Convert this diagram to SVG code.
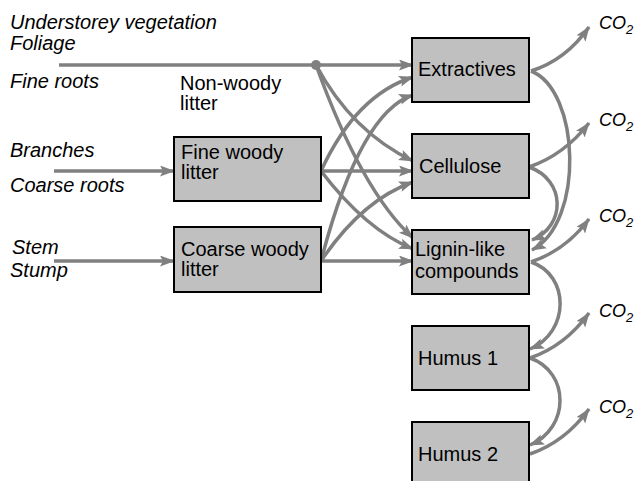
<svg xmlns="http://www.w3.org/2000/svg" width="639" height="481" viewBox="0 0 639 481">
<style>
.box{fill:#c0c0c0;stroke:#000;stroke-width:2}
.t{font-family:"Liberation Sans",Arial,sans-serif;font-size:20px;fill:#000}
.i{font-family:"Liberation Sans",Arial,sans-serif;font-size:20px;font-style:italic;fill:#000}
.co{font-family:"Liberation Sans",Arial,sans-serif;font-size:18px;font-style:italic;fill:#000}
.c{fill:none;stroke:#808080;stroke-width:3.5;marker-end:url(#ah)}
.n{fill:none;stroke:#808080;stroke-width:3.5}
</style>
<defs>
<marker id="ah" markerUnits="userSpaceOnUse" markerWidth="16" markerHeight="12" refX="14" refY="5.5" orient="auto">
<path d="M0,0 L15,5.5 L0,11 L3,5.5 z" fill="#808080"/>
</marker>
</defs>
<rect width="639" height="481" fill="#fff"/>
<g id="inputs">
<text class="i" x="10" y="29">Understorey vegetation</text>
<text class="i" x="10" y="50">Foliage</text>
<text class="i" x="10" y="88">Fine roots</text>
<text class="t" x="180" y="90">Non-woody</text>
<text class="t" x="180" y="110">litter</text>
<text class="i" x="10" y="157">Branches</text>
<text class="i" x="10" y="192">Coarse roots</text>
<text class="i" x="12" y="254">Stem</text>
<text class="i" x="10" y="277">Stump</text>
</g>
<g id="connectors">
<path class="n" d="M59,65 L316,65"/>
<circle cx="316" cy="65" r="5" fill="#808080"/>
<path class="c" d="M316,65 L413,65"/>
<path class="c" d="M316,65 Q352,132 413,161"/>
<path class="c" d="M316,65 Q362,192 413,238"/>
<path class="c" d="M54,171 L174,171"/>
<path class="c" d="M54,261 L174,261"/>
<path class="c" d="M321,171 Q356,95 413,77"/>
<path class="c" d="M321,171 L413,171"/>
<path class="c" d="M321,171 Q366,230 413,249"/>
<path class="c" d="M321,261 Q360,112 413,95"/>
<path class="c" d="M321,261 Q362,200 413,182"/>
<path class="c" d="M321,261 L413,261"/>
<path class="c" d="M531,71 Q566,60 589,27"/>
<path class="c" d="M529,167 Q564,155 589,123"/>
<path class="c" d="M531,262 Q566,250 589,219"/>
<path class="c" d="M530,358 Q565,346 589,313"/>
<path class="c" d="M530,454 Q565,442 589,409"/>
<path class="c" d="M531,71 C580,90 585,222 532,250"/>
<path class="c" d="M529,167 C566,180 566,226 532,240"/>
<path class="c" d="M531,262 C570,275 570,332 530,349"/>
<path class="c" d="M530,358 C570,372 570,428 530,445"/>
</g>
<g id="extractives"><rect class="box" x="412" y="38" width="117" height="64"/><text class="t" x="418" y="76">Extractives</text></g>
<g id="cellulose"><rect class="box" x="412" y="134" width="117" height="64"/><text class="t" x="419" y="173">Cellulose</text></g>
<g id="lignin"><rect class="box" x="412" y="230" width="117" height="64"/><text class="t" x="415" y="256">Lignin-like</text><text class="t" x="415" y="278">compounds</text></g>
<g id="humus1"><rect class="box" x="412" y="326" width="117" height="64"/><text class="t" x="418" y="365">Humus 1</text></g>
<g id="humus2"><rect class="box" x="412" y="422" width="117" height="70"/><text class="t" x="418" y="461">Humus 2</text></g>
<g id="fine-woody"><rect class="box" x="174" y="137" width="147" height="64"/><text class="t" x="181" y="159">Fine woody</text><text class="t" x="181" y="179">litter</text></g>
<g id="coarse-woody"><rect class="box" x="174" y="227" width="147" height="65"/><text class="t" x="181" y="256">Coarse woody</text><text class="t" x="181" y="276">litter</text></g>
<g id="co2">
<text class="co" x="599" y="29">CO<tspan font-size="13" dy="5">2</tspan></text>
<text class="co" x="599" y="126">CO<tspan font-size="13" dy="5">2</tspan></text>
<text class="co" x="599" y="222">CO<tspan font-size="13" dy="5">2</tspan></text>
<text class="co" x="599" y="317">CO<tspan font-size="13" dy="5">2</tspan></text>
<text class="co" x="599" y="413">CO<tspan font-size="13" dy="5">2</tspan></text>
</g>
</svg>
